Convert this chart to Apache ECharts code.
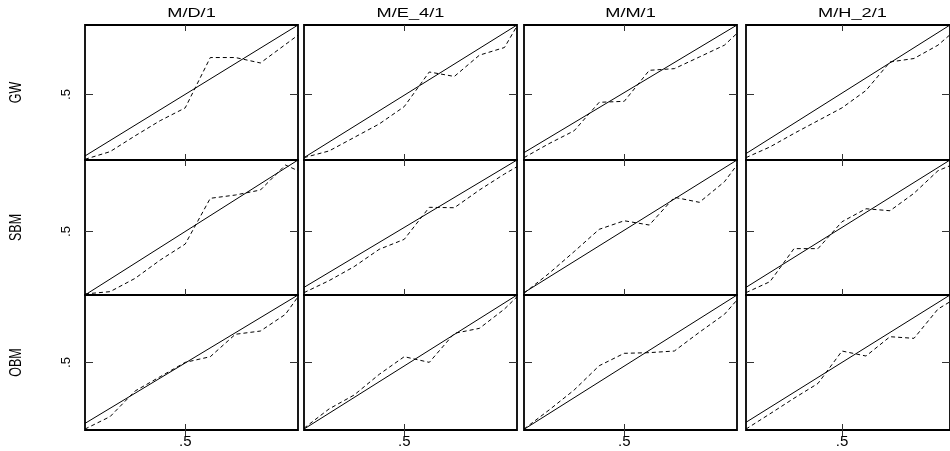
<!DOCTYPE html>
<html>
<head>
<meta charset="utf-8">
<script src="https://cdn.jsdelivr.net/npm/echarts@6.0.0/dist/echarts.min.js"></script>
<style>
html, body { margin: 0; padding: 0; background: #fff; }
#chart { width: 950px; height: 451px; }
</style>
</head>
<body>
<div id="chart"></div>
<script>
// columns are the queue models, rows the estimators
var colTitles = ['M/D/1', 'M/E_4/1', 'M/M/1', 'M/H_2/1'];
var rowNames = ['GW', 'SBM', 'OBM'];

// x positions shared by every panel
var xPoints = [0.0556, 0.1667, 0.2778, 0.3889, 0.5, 0.6111, 0.7222, 0.8333, 0.9444, 1.0];

// dashed curves, one array per column
var gwDashed = [
    [0.034, 0.089, 0.203, 0.312, 0.404, 0.766, 0.766, 0.727, 0.860, 0.927],
    [0.046, 0.094, 0.191, 0.288, 0.413, 0.662, 0.630, 0.783, 0.838, 0.993],
    [0.046, 0.147, 0.239, 0.444, 0.451, 0.674, 0.686, 0.770, 0.855, 0.940],
    [0.046, 0.123, 0.220, 0.312, 0.404, 0.529, 0.734, 0.759, 0.855, 0.930]
];
var sbmDashed = [
    [0.063, 0.079, 0.172, 0.300, 0.412, 0.732, 0.755, 0.790, 0.965, 0.925],
    [0.072, 0.156, 0.254, 0.375, 0.445, 0.669, 0.666, 0.790, 0.902, 0.953],
    [0.068, 0.207, 0.359, 0.515, 0.575, 0.545, 0.739, 0.704, 0.848, 0.965],
    [0.072, 0.149, 0.380, 0.380, 0.568, 0.659, 0.645, 0.767, 0.925, 0.960]
];
var obmDashed = [
    [0.007, 0.099, 0.289, 0.395, 0.501, 0.543, 0.709, 0.733, 0.857, 0.987],
    [0.013, 0.156, 0.259, 0.412, 0.543, 0.501, 0.716, 0.753, 0.896, 0.987],
    [0.007, 0.148, 0.296, 0.476, 0.568, 0.573, 0.585, 0.724, 0.857, 0.963],
    [0.007, 0.120, 0.235, 0.345, 0.585, 0.548, 0.691, 0.679, 0.896, 0.950]
];

// solid reference line: value at the left edge, it always ends at (1, 1)
var gwLineStart = [0.058, 0.046, 0.082, 0.075];
var sbmLineStart = [0.0556, 0.109, 0.072, 0.109];
var obmLineStart = [0.049, 0.007, 0.005, 0.057];

var tickValues = [0.5];
var tickText = '.5';

var dashedRows = [gwDashed, sbmDashed, obmDashed];
var startRows = [gwLineStart, sbmLineStart, obmLineStart];

// layout
var colLeft = [85, 304, 524, 746];
var colWidth = 213;
var rowTop = [25, 160, 295];
var rowHeight = 135;
var xMin = 0.0556;
var rowYMin = [0.029, 0.0556, 0];
var font = '"Liberation Sans", Arial, sans-serif';

var grids = [], xAxes = [], yAxes = [], series = [], graphics = [];

function tickAxis(gridIndex, pos, len, showLabel, min, isY) {
    var ax = {
        type: 'value',
        gridIndex: gridIndex,
        position: pos,
        min: min,
        max: 1,
        axisLine: {show: false},
        splitLine: {show: false},
        axisTick: {
            show: true,
            inside: true,
            length: len,
            customValues: tickValues,
            lineStyle: {color: '#333', width: 1}
        },
        axisLabel: {
            show: showLabel,
            customValues: tickValues,
            formatter: function () { return tickText; },
            color: '#000',
            fontFamily: font
        }
    };
    if (isY) {
        ax.axisLabel.rotate = 90;
        ax.axisLabel.fontSize = 13;
        ax.axisLabel.margin = 12;
    } else {
        ax.axisLabel.fontSize = 15;
        ax.axisLabel.margin = 4;
    }
    return ax;
}

for (var r = 0; r < 3; r++) {
    for (var c = 0; c < 4; c++) {
        var p = r * 4 + c;
        grids.push({
            left: colLeft[c],
            top: rowTop[r],
            width: colWidth,
            height: rowHeight,
            show: true,
            borderColor: '#000',
            borderWidth: 1.8,
            backgroundColor: 'transparent'
        });
        xAxes.push(tickAxis(p, 'bottom', 6, r === 2, xMin, false));
        xAxes.push(tickAxis(p, 'top', 6, false, xMin, false));
        yAxes.push(tickAxis(p, 'left', 8, c === 0, rowYMin[r], true));
        yAxes.push(tickAxis(p, 'right', 8, false, rowYMin[r], true));

        series.push({
            type: 'line',
            xAxisIndex: 2 * p,
            yAxisIndex: 2 * p,
            data: [[xMin, startRows[r][c]], [1, 1]],
            symbol: 'none',
            silent: true,
            lineStyle: {color: '#000', width: 1}
        });
        var vals = dashedRows[r][c];
        series.push({
            type: 'line',
            xAxisIndex: 2 * p,
            yAxisIndex: 2 * p,
            data: xPoints.map(function (x, i) { return [x, vals[i]]; }),
            symbol: 'none',
            silent: true,
            lineStyle: {color: '#000', width: 1, type: [4, 3]}
        });
    }
}

colTitles.forEach(function (t, c) {
    graphics.push({
        type: 'text',
        x: colLeft[c] + colWidth / 2,
        y: 13,
        scaleX: 1.4,
        style: {
            text: t,
            font: '13px ' + font,
            fill: '#000',
            textAlign: 'center',
            textVerticalAlign: 'middle'
        }
    });
});

rowNames.forEach(function (t, r) {
    graphics.push({
        type: 'text',
        x: 16.5,
        y: rowTop[r] + rowHeight / 2,
        rotation: Math.PI / 2,
        scaleY: 1.25,
        style: {
            text: t,
            font: '12.5px ' + font,
            fill: '#000',
            textAlign: 'center',
            textVerticalAlign: 'middle'
        }
    });
});

var myChart = echarts.init(document.getElementById('chart'));
myChart.setOption({
    backgroundColor: '#fff',
    animation: false,
    grid: grids,
    xAxis: xAxes,
    yAxis: yAxes,
    series: series,
    graphic: graphics
});
</script>
</body>
</html>
